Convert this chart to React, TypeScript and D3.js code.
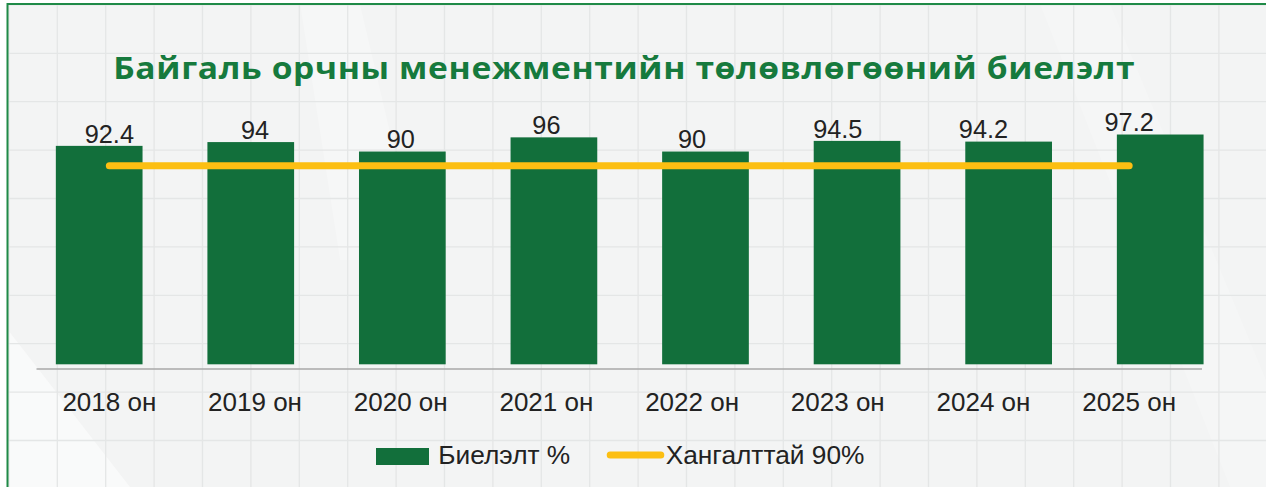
import React from "react";
import * as d3 from "d3";

const categories = ["2018 он", "2019 он", "2020 он", "2021 он", "2022 он", "2023 он", "2024 он", "2025 он"];
const actualValues = [92.4, 94, 90, 96, 90, 94.5, 94.2, 97.2];
const targetValues = [90, 90, 90, 90, 90, 90, 90, 90];
const titleText = "Байгаль орчны менежментийн төлөвлөгөөний биелэлт";
const legendLabels = ["Биелэлт %", "Хангалттай 90%"];

const W = 1266;
const H = 487;
const GREEN = "#126f3b";
const YELLOW = "#fcbf12";
const TITLE_GREEN = "#167a3d";

export default function App() {
  const baseline = 364.3;
  const xBars = d3.scaleBand<string>().domain(categories).range([23.4, 1236]).paddingInner(0.428).paddingOuter(0.214);
  const xAxis = d3.scaleBand<string>().domain(categories).range([36.5, 1202]).padding(0);
  const y = d3.scaleLinear().domain([0, 100]).range([baseline, 127.9]);
  const y2 = d3.scaleLinear().domain([0, 100]).range([baseline, 143.6]);

  const cx = (c: string) => (xAxis(c) as number) + xAxis.bandwidth() / 2;

  const line = d3
    .line<number>()
    .x((_, i) => cx(categories[i]))
    .y((d) => y2(d));

  const gridStep = 48.4;
  const vLines = d3.range(8.9, W, gridStep);
  const hLines = d3.range(4.9, H, gridStep);

  const font = "'Liberation Sans', Arial, sans-serif";

  return (
    <svg width={W} height={H} style={{ position: "absolute", left: 0, top: 0, display: "block" }}>
      <rect x={0} y={0} width={W} height={H} fill="#ffffff" />
      <rect x={8} y={4} width={W - 8} height={H - 4} fill="#f3f4f4" />
      <polygon points={`8,330 8,${H} 130,${H}`} fill="#ffffff" opacity={0.5} />
      <polygon points={`300,4 360,4 420,260 340,260`} fill="#ffffff" opacity={0.25} />
      <polygon points={`1040,4 1110,4 1266,380 1266,487 1230,487`} fill="#ffffff" opacity={0.2} />
      <g stroke="#e4e6e6" strokeWidth={1.3}>
        {vLines.map((vx) => (
          <line key={"v" + vx} x1={vx} x2={vx} y1={4} y2={H} />
        ))}
        {hLines.map((hy) => (
          <line key={"h" + hy} x1={8} x2={W} y1={hy} y2={hy} />
        ))}
      </g>
      <line x1={7.5} x2={7.5} y1={3} y2={H} stroke="#1f8a47" strokeWidth={2} />
      <line x1={7} x2={W} y1={4} y2={4} stroke="#1f8a47" strokeWidth={2} />

      <text
        x={113.3}
        y={79}
        textAnchor="start"
        fill={TITLE_GREEN}
        fontFamily="'Open Sans', 'DejaVu Sans', sans-serif"
        fontWeight={700}
        fontSize={31}
        letterSpacing={0.6}
        textLength={1022}
        lengthAdjust="spacingAndGlyphs"
      >
        {titleText}
      </text>

      {actualValues.map((v, i) => {
        const bx = xBars(categories[i]) as number;
        return (
          <rect key={"b" + i} x={bx} y={y(v)} width={xBars.bandwidth()} height={baseline - y(v)} fill={GREEN} />
        );
      })}

      <line x1={xAxis.range()[0]} x2={xAxis.range()[1]} y1={369} y2={369} stroke="#a9a9a9" strokeWidth={1.5} />

      {categories.map((c) => (
        <text
          key={"l" + c}
          x={cx(c)}
          y={410.5}
          textAnchor="middle"
          fontFamily={font}
          fontSize={26}
          fill="#222222"
        >
          {c}
        </text>
      ))}

      <path d={line(targetValues) || ""} fill="none" stroke={YELLOW} strokeWidth={7} strokeLinecap="round" />

      {actualValues.map((v, i) => (
        <text
          key={"v" + i}
          x={cx(categories[i])}
          y={y(v) - 3.3}
          textAnchor="middle"
          fontFamily={font}
          fontSize={25.3}
          fill="#222222"
        >
          {String(v)}
        </text>
      ))}

      <rect x={376} y={448} width={53} height={17} fill={GREEN} />
      <text x={438.3} y={463.7} fontFamily={font} fontSize={26.3} fill="#222222">
        {legendLabels[0]}
      </text>
      <line x1={610.2} x2={660.8} y1={455} y2={455} stroke={YELLOW} strokeWidth={7} strokeLinecap="round" />
      <text x={665.7} y={463.7} fontFamily={font} fontSize={26.3} fill="#222222">
        {legendLabels[1]}
      </text>
    </svg>
  );
}
